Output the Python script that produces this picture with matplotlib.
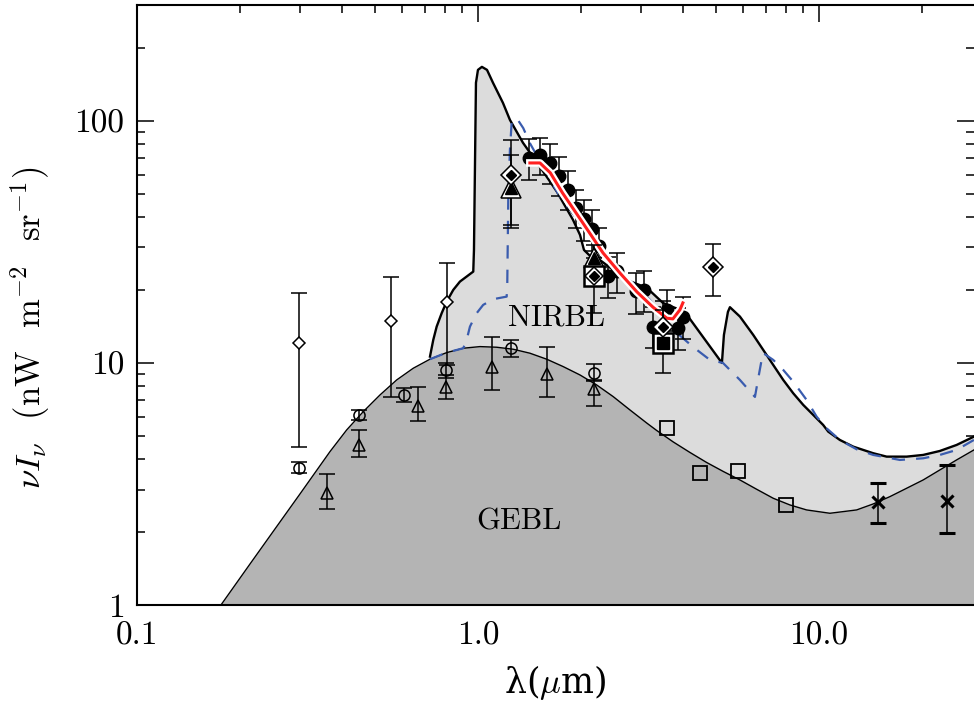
import numpy as np
import matplotlib.pyplot as plt
import matplotlib.patheffects as pe
from matplotlib.ticker import FixedLocator, FixedFormatter, LogLocator, NullFormatter

plt.rcParams['font.family'] = ['cmr10', 'DejaVu Serif']
plt.rcParams['mathtext.fontset'] = 'cm'
plt.rcParams['axes.unicode_minus'] = False

# --- model curves ---
gebl_x = [0.1763, 0.2145, 0.2539, 0.3006, 0.3681, 0.4121, 0.4608, 0.5161, 0.5776, 0.6461,
          0.7232, 0.8095, 0.9055, 1.0137, 1.1345, 1.2691, 1.420, 1.591, 1.779, 1.991,
          2.229, 2.493, 2.791, 3.124, 3.342, 3.739, 4.185, 4.684, 5.241, 5.866, 6.567,
          7.345, 8.222, 9.203, 10.77, 12.90, 14.43, 16.15, 18.08, 20.22, 22.63, 25.34,
          28.48]
gebl_y = [1.0, 1.477, 2.061, 2.875, 4.301, 5.287, 6.29, 7.375, 8.505, 9.508,
          10.36, 11.03, 11.50, 11.68, 11.61, 11.39, 10.97, 10.36, 9.654, 8.921,
          8.111, 7.257, 6.394, 5.650, 5.262, 4.716, 4.268, 3.880, 3.562, 3.285, 3.007,
          2.760, 2.590, 2.470, 2.393, 2.470, 2.615, 2.803, 3.035, 3.285, 3.613, 3.974,
          4.370]

total_x = [0.7232, 0.7395, 0.7567, 0.7827, 0.8095, 0.8464, 0.8855, 0.9265, 0.9688,
           0.9734, 0.9866, 1.0, 1.027, 1.063, 1.107, 1.184, 1.241, 1.355, 1.520, 1.705,
           1.900, 1.992, 2.046, 2.13, 2.279, 2.735, 3.131, 3.487, 3.912, 4.102, 5.194,
           5.265, 5.409, 5.483, 5.866, 6.418, 6.865, 7.345, 7.859, 8.407, 8.995, 9.624,
           10.29, 10.65, 11.52, 12.61, 14.43, 15.80, 18.08, 20.22, 22.63, 25.34, 28.48]
total_y = [10.62, 12.45, 14.13, 16.05, 17.92, 20.03, 21.68, 22.74, 23.84,
           29.3, 143.6, 162.4, 167.1, 162.4, 143.6, 118.6, 100.9, 81.2, 64.6, 50.9,
           39.0, 33.8, 29.3, 27.7, 26.6, 22.0, 20.4, 17.7, 16.56, 15.79, 10.0,
           13.05, 16.25, 16.99, 15.54, 13.05, 11.32, 9.81, 8.505, 7.494, 6.707, 6.098,
           5.544, 5.202, 4.806, 4.510, 4.236, 4.101, 4.101, 4.168, 4.328, 4.583, 4.960]

model_x = [0.7232, 0.8095, 0.9055, 0.9265, 0.9474, 0.9913, 1.036, 1.109, 1.214, 1.219,
           1.227, 1.241, 1.256, 1.299, 1.358, 1.420, 1.740, 2.032, 2.439, 2.926, 3.195,
           3.656, 4.272, 4.790, 5.230, 5.866, 6.492, 6.625, 6.85, 7.345, 7.859, 8.407,
           9.203, 9.846, 10.53, 11.52, 12.90, 14.43, 17.28, 20.22, 22.63, 25.34, 28.48]
model_y = [10.36, 11.03, 11.50, 12.45, 14.13, 16.05, 17.37, 18.34, 18.79, 21.35,
           47.2, 75.9, 99.3, 102.6, 93.3, 80.9, 48.5, 36.5, 26.1, 20.6, 18.2,
           14.09, 11.65, 10.29, 10.0, 8.505, 7.237, 8.505, 11.0, 10.29, 9.355, 8.37,
           7.032, 6.001, 5.370, 4.806, 4.399, 4.168, 3.974, 4.037, 4.168, 4.370, 4.806]

fit_x = [1.42, 1.52, 1.63, 1.77, 2.03, 2.326, 2.61, 2.926, 3.26, 3.58, 3.73, 3.91, 3.99]
fit_y = [67.0, 67.0, 61.0, 50.4, 37.9, 28.5, 23.5, 19.65, 17.0, 15.3, 15.2, 16.56, 17.7]

# --- measurements ---
dot_x = [1.41, 1.52, 1.63, 1.73, 1.84, 1.94, 2.05, 2.16, 2.26, 2.41, 2.56, 2.91, 3.07,
         3.26, 3.58, 3.86, 3.99]
dot_y = [70.3, 72.4, 67.1, 59.3, 51.9, 43.7, 39.4, 35.8, 30.4, 22.9, 24.0, 19.8, 20.0,
         14.1, 16.6, 13.95, 15.5]
dot_lo = [57, 60, 55, 49, 43, 36, 32, 29, 25, 18.5, 19.5, 16.0, 16.2, 11.5, 13.5, 11.3, 12.6]
dot_hi = [84, 85, 80, 71, 62, 52, 47, 43, 36, 27.5, 28.5, 23.5, 24, 17, 20, 16.8, 18.8]

ocirc_x = [0.299, 0.448, 0.607, 0.806, 1.25, 2.19]
ocirc_y = [3.68, 6.10, 7.38, 9.36, 11.5, 9.09]
ocirc_lo = [3.5, 5.8, 6.9, 8.7, 10.6, 8.4]
ocirc_hi = [3.9, 6.4, 7.9, 10.0, 12.4, 9.9]

otri_x = [0.361, 0.448, 0.667, 0.806, 1.10, 1.593, 2.19]
otri_y = [2.9, 4.58, 6.64, 7.95, 9.62, 9.0, 7.81]
otri_lo = [2.49, 4.09, 5.76, 7.1, 7.74, 7.23, 6.64]
otri_hi = [3.48, 5.28, 7.95, 8.92, 12.8, 11.6, 8.5]

odia_x = [0.299, 0.556, 0.811]
odia_y = [12.1, 14.9, 17.9]
odia_lo = [4.5, 7.24, 9.8]
odia_hi = [19.5, 22.7, 25.9]

cross_x = [14.9, 23.7]
cross_y = [2.67, 2.69]
cross_lo = [2.18, 1.98]
cross_hi = [3.19, 3.79]

osq_x = [3.58, 4.48, 5.78, 8.0]
osq_y = [5.39, 3.51, 3.58, 2.59]

# DIRBE-style combined markers
dia_box_x = [1.25, 3.487, 4.89]
dia_box_y = [59.8, 14.1, 24.9]
dia_box_lo = [36.1, 11.0, 18.9]
dia_box_hi = [83.5, 18.0, 31.0]

tri_box_x = [1.25, 2.189]
tri_box_y = [52.9, 27.2]
tri_box_lo = [37.2, 22.9]
tri_box_hi = [72.4, 30.7]

sq_dia_x = [2.189]
sq_dia_y = [22.9]
sq_dia_lo = [16.1]
sq_dia_hi = [27.2]

sq_sq_x = [3.487]
sq_sq_y = [12.1]
sq_sq_lo = [9.1]
sq_sq_hi = [16.5]


def yerr(y, lo, hi):
    y = np.asarray(y)
    return [y - np.asarray(lo), np.asarray(hi) - y]


fig = plt.figure(figsize=(9.74, 7.01), dpi=100)
ax = fig.add_axes([137 / 974, 1 - 605 / 701, 1 - 137 / 974, 600 / 701])
ax.set_xscale('log')
ax.set_yscale('log')
ax.set_xlim(0.1, 28.5)
ax.set_ylim(1, 301)

ax.fill_between(total_x, 0.5, total_y, color='#dcdcdc', lw=0, zorder=1)
ax.plot(total_x, total_y, color='black', lw=1.7, zorder=3)
ax.fill_between(gebl_x, 0.5, gebl_y, color='#b4b4b4', lw=0, zorder=2)
ax.plot(gebl_x, gebl_y, color='black', lw=1.0, zorder=3)
ax.plot(model_x, model_y, color='#3a5cae', lw=1.6, dashes=(6, 5), zorder=3.5)

eb = dict(ecolor='black', elinewidth=1.1, capsize=6, capthick=1.1, linestyle='none')
ax.errorbar(dot_x, dot_y, yerr=yerr(dot_y, dot_lo, dot_hi), fmt='o', ms=9,
            mfc='black', mec='black', zorder=5, **eb)
ax.errorbar(ocirc_x, ocirc_y, yerr=yerr(ocirc_y, ocirc_lo, ocirc_hi), fmt='o', ms=8,
            mfc='none', mec='black', mew=1.1, zorder=5, **eb)
ax.errorbar(otri_x, otri_y, yerr=yerr(otri_y, otri_lo, otri_hi), fmt='^', ms=9,
            mfc='none', mec='black', mew=1.1, zorder=5, **eb)
ax.errorbar(odia_x, odia_y, yerr=yerr(odia_y, odia_lo, odia_hi), fmt='D', ms=6,
            mfc='white', mec='black', mew=1.1, zorder=5, **eb)
ax.errorbar(cross_x, cross_y, yerr=yerr(cross_y, cross_lo, cross_hi), fmt='x', ms=9,
            mfc='black', mec='black', mew=2.2, zorder=5, **eb)
ax.plot(osq_x, osq_y, 's', ms=9.5, mfc='none', mec='black', mew=1.3, zorder=5)

ax.plot(fit_x, fit_y, color='#ff2020', lw=2.2, zorder=6,
        path_effects=[pe.Stroke(linewidth=5.5, foreground='white'), pe.Normal()])

# combined markers: open outer shape, filled inner shape
for xs, ys, lo, hi in [(tri_box_x, tri_box_y, tri_box_lo, tri_box_hi),
                       (dia_box_x, dia_box_y, dia_box_lo, dia_box_hi),
                       (sq_dia_x, sq_dia_y, sq_dia_lo, sq_dia_hi),
                       (sq_sq_x, sq_sq_y, sq_sq_lo, sq_sq_hi)]:
    ax.errorbar(xs, ys, yerr=yerr(ys, lo, hi), fmt='none', zorder=7, **eb)
ax.plot(tri_box_x, tri_box_y, '^', ms=15, mfc='white', mec='black', mew=1.1, zorder=8)
ax.plot(tri_box_x, tri_box_y, '^', ms=8, mfc='black', mec='black', zorder=8.1)
ax.plot(sq_dia_x, sq_dia_y, 's', ms=14, mfc='white', mec='black', mew=1.8, zorder=8)
ax.plot(sq_sq_x, sq_sq_y, 's', ms=14, mfc='white', mec='black', mew=1.8, zorder=8)
ax.plot(sq_sq_x, sq_sq_y, 's', ms=8, mfc='black', mec='black', zorder=8.1)
ax.plot(dia_box_x, dia_box_y, 'D', ms=10.5, mfc='white', mec='black', mew=1.1, zorder=8.2)
ax.plot(sq_dia_x, sq_dia_y, 'D', ms=9.5, mfc='white', mec='black', mew=1.1, zorder=8.2)
ax.plot(dia_box_x + sq_dia_x, dia_box_y + sq_dia_y, 'D', ms=5.5, mfc='black',
        mec='black', zorder=8.3)

ax.text(1.705, 15.3, 'NIRBL', fontsize=22, ha='center', va='center', zorder=4)
ax.text(1.319, 2.20, 'GEBL', fontsize=22, ha='center', va='center', zorder=4)

ax.xaxis.set_major_locator(FixedLocator([0.1, 1.0, 10.0]))
ax.xaxis.set_major_formatter(FixedFormatter(['0.1', '1.0', '10.0']))
ax.yaxis.set_major_locator(FixedLocator([1, 10, 100]))
ax.yaxis.set_major_formatter(FixedFormatter(['1', '10', '100']))
for axis in (ax.xaxis, ax.yaxis):
    axis.set_minor_locator(LogLocator(base=10, subs=range(2, 10)))
    axis.set_minor_formatter(NullFormatter())
ax.tick_params(which='both', direction='in', top=True, right=True, width=1.1,
               labelsize=24)
ax.tick_params(which='major', length=12)
ax.tick_params(which='minor', length=6)
ax.tick_params(axis='x', pad=12)
ax.tick_params(axis='y', pad=9)
for s in ax.spines.values():
    s.set_linewidth(1.5)
ax.spines['right'].set_visible(False)

ax.set_xlabel(r'λ($\mu$m)', fontsize=25, va='center', family=['DejaVu Serif'])
ax.xaxis.set_label_coords(0.5, -0.13)
ax.set_ylabel(r'$\nu I_\nu$  (nW  m$^{-2}$  sr$^{-1}$)', fontsize=25, va='center')
ax.yaxis.set_label_coords(-0.128, 0.462)

fig.savefig('out.png', dpi=100)
